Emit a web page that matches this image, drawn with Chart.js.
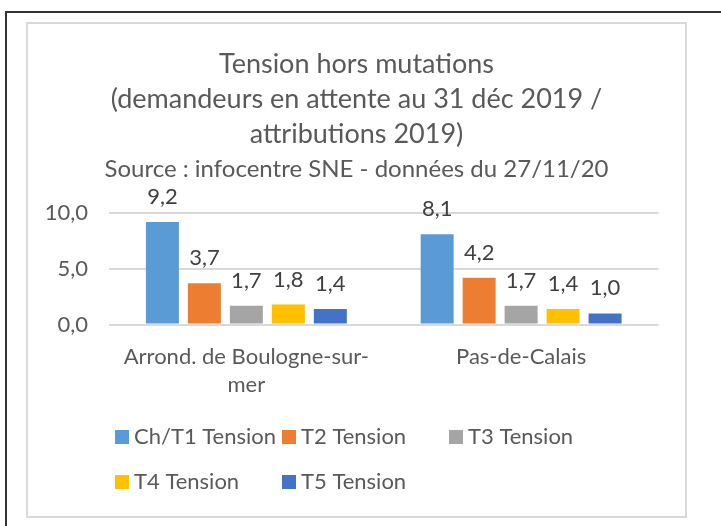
<!DOCTYPE html>
<html>
<head>
<meta charset="utf-8">
<script src="https://cdn.jsdelivr.net/npm/chart.js@4"></script>
<style>
  html, body { margin: 0; padding: 0; background: #fff; }
</style>
</head>
<body>
<canvas id="tension_chart" width="721" height="526"></canvas>
<script>
// data
const categories = [['Arrond. de Boulogne-sur-', 'mer'], 'Pas-de-Calais'];
const seriesNames = ['Ch/T1 Tension', 'T2 Tension', 'T3 Tension', 'T4 Tension', 'T5 Tension'];
const t1Tension = [9.2, 8.1];
const t2Tension = [3.7, 4.2];
const t3Tension = [1.7, 1.7];
const t4Tension = [1.8, 1.4];
const t5Tension = [1.4, 1.0];
const yTicks = [0, 5, 10];
const titleLines = ['Tension hors mutations', '(demandeurs en attente au 31 déc 2019 /', 'attributions 2019)'];
const subtitleLine = 'Source : infocentre SNE - données du 27/11/20';

const seriesColors = ['#5B9BD5', '#ED7D31', '#A5A5A5', '#FFC000', '#4472C4'];
const seriesValues = [t1Tension, t2Tension, t3Tension, t4Tension, t5Tension];
const textColor = '#595959';
const fontFamily = 'Lato, "Open Sans", sans-serif';

function frenchNumber(v) {
    return v.toFixed(1).replace('.', ',');
}

// excel style frame: cropped black border + light gray chart box
const framePlugin = {
    id: 'frame',
    beforeDraw(chart) {
        const ctx = chart.ctx;
        ctx.save();
        ctx.fillStyle = '#fff';
        ctx.fillRect(0, 0, chart.width, chart.height);
        ctx.strokeStyle = '#333';
        ctx.lineWidth = 2;
        ctx.beginPath();
        ctx.moveTo(6, chart.height);
        ctx.lineTo(6, 12);
        ctx.lineTo(chart.width, 12);
        ctx.stroke();
        ctx.strokeStyle = '#d9d9d9';
        ctx.strokeRect(27, 23, 659, 494);
        ctx.restore();
    }
};

const valueLabels = {
    id: 'valueLabels',
    afterDatasetsDraw(chart) {
        const ctx = chart.ctx;
        ctx.save();
        ctx.font = '22px ' + fontFamily;
        ctx.fillStyle = '#404040';
        ctx.textAlign = 'center';
        ctx.textBaseline = 'alphabetic';
        chart.data.datasets.forEach((ds, i) => {
            chart.getDatasetMeta(i).data.forEach((bar, j) => {
                ctx.fillText(frenchNumber(ds.data[j]), bar.x, bar.y - 18);
            });
        });
        ctx.restore();
    }
};

// legend laid out in fixed columns like the excel one
const gridLegend = {
    id: 'gridLegend',
    afterDraw(chart) {
        const ctx = chart.ctx;
        const cols = [115, 282, 449];
        const rows = [437, 482];
        ctx.save();
        ctx.font = '22px ' + fontFamily;
        ctx.textBaseline = 'middle';
        ctx.textAlign = 'left';
        chart.data.datasets.forEach((ds, i) => {
            const x = cols[i % 3];
            const y = rows[Math.floor(i / 3)];
            ctx.fillStyle = ds.backgroundColor;
            ctx.fillRect(x, y - 7, 14, 14);
            ctx.fillStyle = textColor;
            ctx.fillText(ds.label, x + 19, y);
        });
        ctx.restore();
    }
};

const ctx = document.getElementById('tension_chart').getContext('2d');
const tension_chart = new Chart(ctx, {
    type: 'bar',
    data: {
        labels: categories,
        datasets: seriesNames.map((name, i) => ({
            label: name,
            data: seriesValues[i],
            backgroundColor: seriesColors[i],
            borderWidth: 0,
            categoryPercentage: 0.764,
            barPercentage: 0.786
        }))
    },
    options: {
        responsive: false,
        animation: false,
        layout: {
            padding: { top: 47, left: 27, right: 35, bottom: 109.4 }
        },
        plugins: {
            legend: { display: false },
            tooltip: { enabled: false },
            title: {
                display: true,
                text: titleLines,
                color: textColor,
                font: { family: fontFamily, size: 27, weight: 'normal', lineHeight: '35px' },
                padding: { top: 0, bottom: 0 }
            },
            subtitle: {
                display: true,
                text: subtitleLine,
                color: textColor,
                font: { family: fontFamily, size: 24, weight: 'normal', lineHeight: '35px' },
                padding: { top: 0, bottom: 26 }
            }
        },
        scales: {
            x: {
                grid: { display: false, drawTicks: false, tickLength: 0 },
                border: { display: false },
                ticks: {
                    color: textColor,
                    padding: 18,
                    maxRotation: 0,
                    autoSkip: false,
                    font: { family: fontFamily, size: 22, lineHeight: '28px' }
                }
            },
            y: {
                min: 0,
                max: 10,
                afterFit(scale) { scale.width = 82; },
                afterBuildTicks(scale) { scale.ticks = yTicks.map(v => ({ value: v })); },
                grid: { color: '#d9d9d9', lineWidth: 2, drawTicks: false, tickLength: 0 },
                border: { display: false },
                ticks: {
                    color: textColor,
                    padding: 21,
                    font: { family: fontFamily, size: 22 },
                    callback: v => frenchNumber(v)
                }
            },
            // empty right margin inside the plot box
            yRight: {
                position: 'right',
                grid: { display: false, drawTicks: false },
                border: { display: false },
                ticks: { display: false },
                afterFit(scale) { scale.width = 27.5; }
            }
        }
    },
    plugins: [framePlugin, valueLabels, gridLegend]
});
</script>
</body>
</html>
